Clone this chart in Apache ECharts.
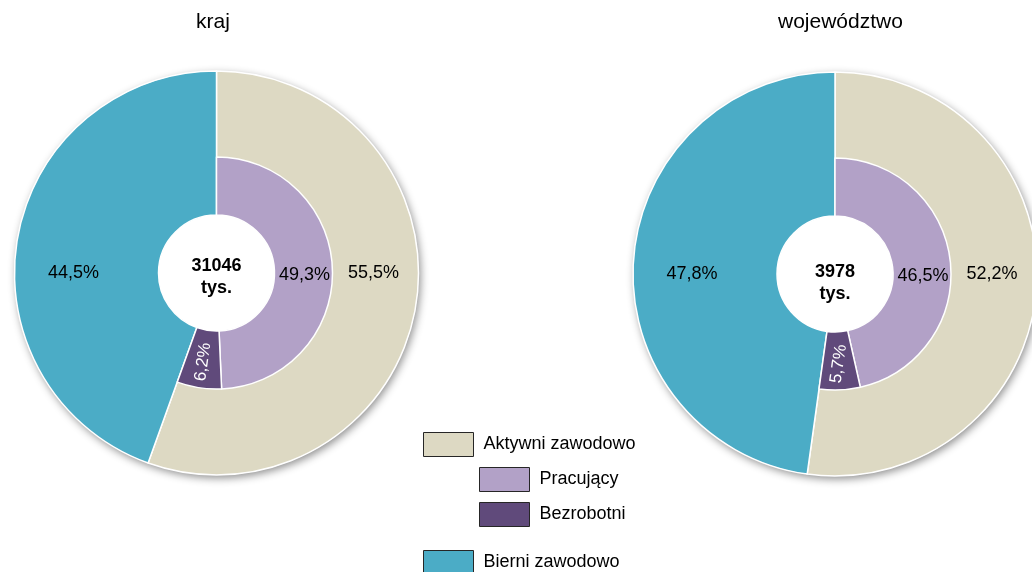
<!DOCTYPE html>
<html><head><meta charset="utf-8">
<script src="https://cdn.jsdelivr.net/npm/echarts@6/dist/echarts.min.js"></script>
<style>html,body{margin:0;padding:0;background:#fff}#c{width:1032px;height:572px}</style>
</head><body><div id="c"></div>
<script>
// ---- data ----
const panels = ['kraj', 'województwo'];
const totals = ['31046', '3978'];
const totalUnit = 'tys.';
const outerNames = ['Aktywni zawodowo', 'Bierni zawodowo'];
const innerNames = ['Pracujący', 'Bezrobotni'];
const aktywni = [55.5, 52.2];
const bierni = [44.5, 47.8];
const pracujacy = [49.3, 46.5];
const bezrobotni = [6.2, 5.7];

// ---- style / layout ----
const FONT = '"Liberation Sans", Arial, sans-serif';
const C_AKT = '#DDD9C3', C_BIE = '#4BACC6', C_PRA = '#B2A1C7', C_BEZ = '#604A7B';
const centers = [[216.5, 273], [835, 274]];
const titleLeft = [196, 778];
const totalDy = [4, 9];
const fmt = v => v.toFixed(1).replace('.', ',') + '%';

const series = [];
const graphic = [];
const titles = [];
panels.forEach((p, i) => {
  const c = centers[i];
  titles.push({ text: p, left: titleLeft[i], top: 12, padding: 0,
    textStyle: { fontFamily: FONT, fontSize: 21, fontWeight: 'normal', color: '#000' } });
  // decorative shadow disc behind the doughnut
  series.push({
    type: 'pie', silent: true, center: c, radius: [0, 202], z: 1,
    label: { show: false }, labelLine: { show: false }, emphasis: { disabled: true },
    itemStyle: { color: '#fff', shadowBlur: 8, shadowColor: 'rgba(0,0,0,0.45)', shadowOffsetX: 2, shadowOffsetY: 3 },
    data: [{ value: 1, name: '__bg' + i }]
  });
  // outer ring (drawn down to the hole; the inner ring is painted over it)
  series.push({
    type: 'pie', center: c, radius: [58, 202], startAngle: 90, clockwise: true, z: 2,
    silent: true, emphasis: { disabled: true },
    itemStyle: { borderColor: '#fff', borderWidth: 1.5 },
    label: { show: true, position: 'inside', fontFamily: FONT, fontSize: 18, color: '#000',
      formatter: pr => fmt(pr.value) },
    labelLayout: pr => pr.dataIndex === 0 ? { x: c[0] + 157, y: c[1] } : { x: c[0] - 143, y: c[1] },
    data: [
      { name: outerNames[0], value: aktywni[i], itemStyle: { color: C_AKT } },
      { name: outerNames[1], value: bierni[i], itemStyle: { color: C_BIE } }
    ]
  });
  // inner ring: breakdown of the economically active
  series.push({
    type: 'pie', center: c, radius: [58, 116], startAngle: 90, clockwise: true, z: 3,
    silent: true, emphasis: { disabled: true },
    itemStyle: { borderColor: '#fff', borderWidth: 1.5 },
    label: { show: true, position: 'inside', fontFamily: FONT, fontSize: 18, color: '#000',
      formatter: pr => fmt(pr.value) },
    labelLayout: pr => pr.dataIndex === 0 ? { x: c[0] + 88, y: c[1] + 2 } : {},
    data: [
      { name: innerNames[0], value: pracujacy[i], itemStyle: { color: C_PRA } },
      { name: innerNames[1], value: bezrobotni[i], itemStyle: { color: C_BEZ },
        label: { color: '#fff', rotate: 82, fontSize: 17 } },
      { name: '__rest' + i, value: bierni[i], itemStyle: { color: 'rgba(0,0,0,0)', borderWidth: 0 },
        label: { show: false } }
    ]
  });
  graphic.push({
    type: 'text', x: c[0], y: c[1] + totalDy[i], z: 100,
    style: { text: totals[i] + '\n' + totalUnit, fontFamily: FONT, fontSize: 18, fontWeight: 'bold',
      lineHeight: 22, align: 'center', verticalAlign: 'middle', fill: '#000' }
  });
});

const legendBase = {
  orient: 'vertical', padding: 0, itemWidth: 50, itemHeight: 24, itemGap: 10,
  selectedMode: false, icon: 'rect',
  itemStyle: { borderColor: '#262626', borderWidth: 1, shadowBlur: 0 },
  textStyle: { fontFamily: FONT, fontSize: 18, color: '#000', padding: [0, 0, 0, 5] }
};
const legend = [
  Object.assign({}, legendBase, { left: 423, top: 432, data: [outerNames[0]] }),
  Object.assign({}, legendBase, { left: 479, top: 467, data: innerNames }),
  Object.assign({}, legendBase, { left: 423, top: 550, data: [outerNames[1]] })
];

const chart = echarts.init(document.getElementById('c'), null, { renderer: 'canvas' });
chart.setOption({
  animation: false,
  backgroundColor: '#fff',
  title: titles,
  legend: legend,
  series: series,
  graphic: graphic
});
</script>
</body></html>
